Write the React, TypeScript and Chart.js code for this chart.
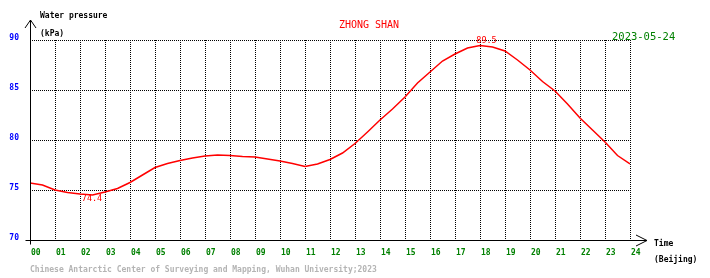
import React, { useEffect, useRef } from "react";
import { Chart, registerables } from "chart.js";

Chart.register(...registerables);

// ---- data ----
const HOURS = [
  0, 0.5, 1, 1.5, 2, 2.5, 3, 3.5, 4, 4.5, 5, 5.5, 6, 6.5, 7, 7.5, 8, 8.5, 9, 9.5,
  10, 10.5, 11, 11.5, 12, 12.5, 13, 13.5, 14, 14.5, 15, 15.5, 16, 16.5, 17, 17.5,
  18, 18.5, 19, 19.5, 20, 20.5, 21, 21.5, 22, 22.5, 23, 23.5, 24,
];
const PRESSURE = [
  75.7, 75.5, 75.0, 74.75, 74.6, 74.5, 74.8, 75.15, 75.75, 76.5, 77.25, 77.65,
  77.95, 78.2, 78.4, 78.5, 78.45, 78.35, 78.3, 78.1, 77.9, 77.65, 77.35, 77.6,
  78.05, 78.7, 79.65, 80.8, 82.0, 83.1, 84.3, 85.7, 86.8, 87.9, 88.6, 89.2,
  89.45, 89.3, 88.9, 88.0, 87.0, 85.85, 84.9, 83.6, 82.2, 81.0, 79.8, 78.45, 77.6,
];
const X_TICK_LABELS = [
  "00", "01", "02", "03", "04", "05", "06", "07", "08", "09", "10", "11", "12",
  "13", "14", "15", "16", "17", "18", "19", "20", "21", "22", "23", "24",
];
const Y_TICKS = [70, 75, 80, 85, 90];
const MIN_MARK = { hour: 2.48, value: 74.4, label: "74.4" };
const MAX_MARK = { hour: 18.26, value: 89.5, label: "89.5" };
const TITLE = "ZHONG SHAN";
const DATE = "2023-05-24";
const Y_TITLE = "Water pressure";
const Y_UNIT = "(kPa)";
const X_TITLE = "Time";
const X_UNIT = "(Beijing)";
const FOOTER = "Chinese Antarctic Center of Surveying and Mapping, Wuhan University;2023";

const MONO = '"DejaVu Sans Mono", "Liberation Mono", monospace';

const overlay = {
  id: "overlay",
  afterDraw(chart: any) {
    const { ctx } = chart;
    const xs = chart.scales.x;
    const ys = chart.scales.y;
    const x0 = Math.round(xs.getPixelForValue(0)) + 0.5;
    const y0 = Math.round(ys.getPixelForValue(70)) + 0.5;
    const xEnd = xs.getPixelForValue(24);
    const yTop = ys.getPixelForValue(90);
    ctx.save();
    // axes
    ctx.strokeStyle = "#000";
    ctx.lineWidth = 1;
    ctx.setLineDash([]);
    ctx.beginPath();
    ctx.moveTo(x0, yTop - 20);
    ctx.lineTo(x0, y0 + 4);
    ctx.moveTo(x0 - 5, y0);
    ctx.lineTo(xEnd + 17, y0);
    // y arrow
    ctx.moveTo(x0 - 5.5, yTop - 12);
    ctx.lineTo(x0, yTop - 20);
    ctx.lineTo(x0 + 5.5, yTop - 12);
    // x arrow
    ctx.moveTo(xEnd + 6, y0 - 5.5);
    ctx.lineTo(xEnd + 17, y0);
    ctx.lineTo(xEnd + 6, y0 + 5.5);
    ctx.stroke();

    ctx.textBaseline = "middle";
    // y tick labels
    ctx.font = `bold 8px ${MONO}`;
    ctx.fillStyle = "#0000ff";
    ctx.textAlign = "right";
    Y_TICKS.forEach((v) => {
      ctx.fillText(String(v), x0 - 11.5, ys.getPixelForValue(v) - 2);
    });
    // x tick labels
    ctx.fillStyle = "#008000";
    ctx.textAlign = "left";
    X_TICK_LABELS.forEach((lab, i) => {
      ctx.fillText(lab, xs.getPixelForValue(i) + 1, y0 + 12);
    });
    // axis titles
    ctx.fillStyle = "#000";
    ctx.fillText(Y_TITLE, x0 + 9.5, yTop - 24);
    ctx.fillText(Y_UNIT, x0 + 9.5, yTop - 6);
    ctx.fillText(X_TITLE, xEnd + 24, y0 + 3.5);
    ctx.fillText(X_UNIT, xEnd + 24, y0 + 19.5);
    // footer
    ctx.fillStyle = "#b4b4b4";
    ctx.fillText(FOOTER, x0 - 0.5, y0 + 29.5);
    // title
    ctx.font = `10px ${MONO}`;
    ctx.fillStyle = "#ff0000";
    ctx.textAlign = "center";
    ctx.fillText(TITLE, 369, yTop - 15);
    // date
    ctx.fillStyle = "#008000";
    ctx.font = `10.5px ${MONO}`;
    ctx.textAlign = "left";
    ctx.fillText(DATE, xEnd - 18, yTop - 3);
    // min/max marks
    ctx.font = `8.5px ${MONO}`;
    ctx.fillStyle = "#ff0000";
    ctx.textAlign = "center";
    ctx.textBaseline = "top";
    ctx.fillText(MIN_MARK.label, xs.getPixelForValue(MIN_MARK.hour), ys.getPixelForValue(MIN_MARK.value) - 1);
    ctx.textBaseline = "bottom";
    ctx.fillText(MAX_MARK.label, xs.getPixelForValue(MAX_MARK.hour), ys.getPixelForValue(MAX_MARK.value) + 0.5);
    ctx.restore();
  },
};

export default function App() {
  const ref = useRef<HTMLCanvasElement | null>(null);
  useEffect(() => {
    if (!ref.current) return;
    const points = HOURS.map((h, i) => ({ x: h, y: PRESSURE[i] }));
    const gridOpts = { color: "#000", lineWidth: 1, drawTicks: false };
    const borderOpts = { display: false, dash: [1, 1] };
    const chart = new Chart(ref.current, {
      type: "line",
      data: {
        datasets: [
          {
            data: points,
            borderColor: "#ff0000",
            borderWidth: 1.5,
            pointRadius: 0,
            tension: 0,
            fill: false,
          },
        ],
      },
      options: {
        animation: false,
        responsive: false,
        devicePixelRatio: 1,
        layout: { padding: { left: 30, right: 80, top: 40, bottom: 38 } },
        plugins: { legend: { display: false }, tooltip: { enabled: false } },
        scales: {
          x: {
            type: "linear",
            min: 0,
            max: 24,
            ticks: { stepSize: 1, display: false },
            grid: gridOpts,
            border: borderOpts,
            afterFit: (s: any) => {
              s.height = 0;
            },
          },
          y: {
            type: "linear",
            min: 70,
            max: 90,
            ticks: { stepSize: 5, display: false },
            grid: gridOpts,
            border: borderOpts,
            afterFit: (s: any) => {
              s.width = 0;
            },
          },
        },
      } as any,
      plugins: [overlay],
    });
    return () => chart.destroy();
  }, []);
  return (
    <div style={{ position: "fixed", left: 0, top: 0, width: 710, height: 278, background: "#fff" }}>
      <canvas ref={ref} width={710} height={278} style={{ display: "block" }} />
    </div>
  );
}
